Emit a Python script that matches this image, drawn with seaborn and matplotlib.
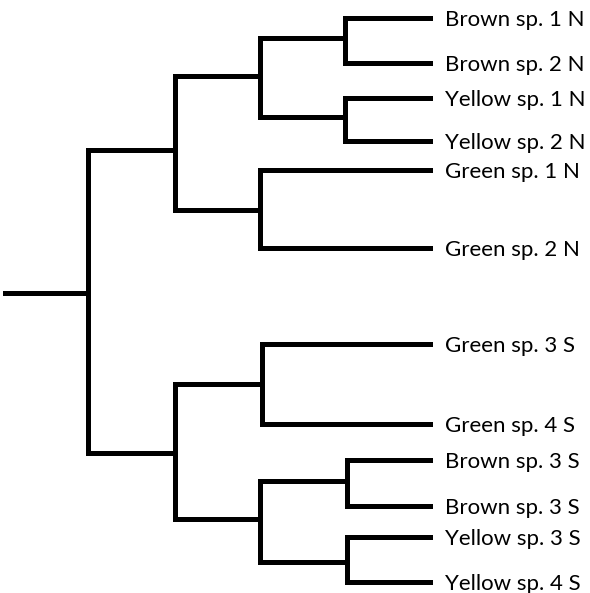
import matplotlib
matplotlib.use("Agg")
import matplotlib.pyplot as plt
import seaborn as sns
import pandas as pd

# Leaf labels and their vertical positions (top = 0)
leaf_labels = ["Brown sp. 1 N", "Brown sp. 2 N", "Yellow sp. 1 N", "Yellow sp. 2 N",
               "Green sp. 1 N", "Green sp. 2 N", "Green sp. 3 S", "Green sp. 4 S",
               "Brown sp. 3 S", "Brown sp. 3 S", "Yellow sp. 3 S", "Yellow sp. 4 S"]
leaf_y = [18, 63, 98, 141, 170, 248, 344, 424, 460, 506, 537, 582]
leaf_x = 430

# Internal nodes: name, depth (x), height (y), children (node names or leaf indices)
node_names = ["root", "A", "A1", "b1", "y1", "g1", "B", "g2", "C", "b2", "y2"]
node_x = [88, 175, 260, 345, 345, 260, 175, 262, 260, 347, 347]
node_y = [293, 150, 76, 38, 117, 210, 453, 384, 519, 481, 562]
node_children = [["A", "B"], ["A1", "g1"], ["b1", "y1"], [0, 1], [2, 3], [4, 5],
                 ["g2", "C"], [6, 7], ["b2", "y2"], [8, 9], [10, 11]]
root_stem_x = 5

# Build the segment table
pos = {n: (x, y) for n, x, y in zip(node_names, node_x, node_y)}
for i, y in enumerate(leaf_y):
    pos[i] = (leaf_x, y)

rows = []
seg = 0
def add(x0, y0, x1, y1):
    global seg
    rows.append({"seg": seg, "x": x0, "y": y0})
    rows.append({"seg": seg, "x": x1, "y": y1})
    seg += 1

add(root_stem_x, node_y[0], node_x[0], node_y[0])
for n, kids in zip(node_names, node_children):
    px, py = pos[n]
    ys = [pos[k][1] for k in kids]
    add(px, min(ys), px, max(ys))
    for k in kids:
        add(px, pos[k][1], pos[k][0], pos[k][1])
segments = pd.DataFrame(rows)

sns.set_style("white")
fig = plt.figure(figsize=(5.9, 5.93), dpi=100)
ax = fig.add_axes([0, 0, 1, 1])
sns.lineplot(data=segments, x="x", y="y", units="seg", estimator=None, sort=False,
             color="black", linewidth=3.6, solid_capstyle="projecting", ax=ax, legend=False)

for lab, y in zip(leaf_labels, leaf_y):
    ax.text(445, y, lab, ha="left", va="center_baseline", fontsize=16,
            family=["Lato", "DejaVu Sans"], color="black")

ax.set_xlim(0, 590)
ax.set_ylim(593, 0)
ax.axis("off")
fig.savefig("out.png", dpi=100)
